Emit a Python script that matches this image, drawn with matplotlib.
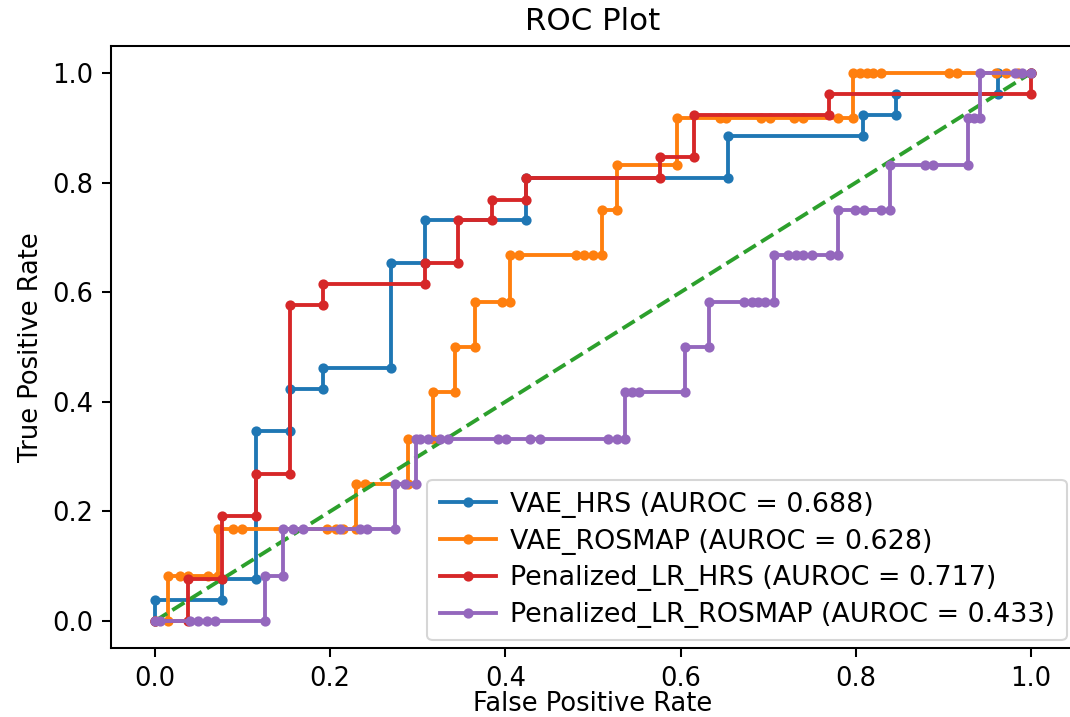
import matplotlib
matplotlib.use("Agg")
import matplotlib.pyplot as plt

# ROC curve points (false positive rate, true positive rate)
vae_hrs_fpr = [0, 0, 0.077, 0.077, 0.115, 0.115, 0.154, 0.154, 0.192, 0.192,
               0.269, 0.269, 0.308, 0.308, 0.423, 0.423, 0.654, 0.654, 0.808,
               0.808, 0.846, 0.846, 0.962, 0.962, 1.0]
vae_hrs_tpr = [0, 0.038, 0.038, 0.077, 0.077, 0.346, 0.346, 0.423, 0.423, 0.462,
               0.462, 0.654, 0.654, 0.731, 0.731, 0.808, 0.808, 0.885, 0.885,
               0.923, 0.923, 0.962, 0.962, 1.0, 1.0]

vae_rosmap_fpr = [0, 0.015, 0.015, 0.029, 0.038, 0.061, 0.072, 0.072, 0.089, 0.099,
                  0.196, 0.207, 0.215, 0.229, 0.229, 0.240, 0.289, 0.289, 0.317,
                  0.317, 0.342, 0.342, 0.365, 0.365, 0.396, 0.405, 0.405, 0.415,
                  0.481, 0.490, 0.500, 0.510, 0.510, 0.527, 0.527, 0.596, 0.596,
                  0.645, 0.652, 0.692, 0.702, 0.729, 0.740, 0.780, 0.797, 0.797,
                  0.805, 0.813, 0.820, 0.829, 0.906, 0.915, 0.960, 0.972, 0.985, 1.0]
vae_rosmap_tpr = [0, 0, 0.083, 0.083, 0.083, 0.083, 0.083, 0.167, 0.167, 0.167,
                  0.167, 0.167, 0.167, 0.167, 0.25, 0.25, 0.25, 0.333, 0.333,
                  0.417, 0.417, 0.5, 0.5, 0.583, 0.583, 0.583, 0.667, 0.667,
                  0.667, 0.667, 0.667, 0.667, 0.75, 0.75, 0.833, 0.833, 0.917,
                  0.917, 0.917, 0.917, 0.917, 0.917, 0.917, 0.917, 0.917, 1.0,
                  1.0, 1.0, 1.0, 1.0, 1.0, 1.0, 1.0, 1.0, 1.0, 1.0]

lr_hrs_fpr = [0, 0.038, 0.038, 0.077, 0.077, 0.115, 0.115, 0.154, 0.154, 0.192,
              0.192, 0.308, 0.308, 0.346, 0.346, 0.385, 0.385, 0.423, 0.423,
              0.577, 0.577, 0.615, 0.615, 0.769, 0.769, 1.0, 1.0]
lr_hrs_tpr = [0, 0, 0.077, 0.077, 0.192, 0.192, 0.269, 0.269, 0.577, 0.577,
              0.615, 0.615, 0.654, 0.654, 0.731, 0.731, 0.769, 0.769, 0.808,
              0.808, 0.846, 0.846, 0.923, 0.923, 0.962, 0.962, 1.0]

lr_rosmap_fpr = [0, 0.006, 0.040, 0.049, 0.059, 0.068, 0.126, 0.126, 0.146, 0.146,
                 0.158, 0.169, 0.211, 0.234, 0.242, 0.274, 0.274, 0.285, 0.298,
                 0.298, 0.303, 0.312, 0.325, 0.335, 0.392, 0.401, 0.428, 0.440,
                 0.517, 0.527, 0.537, 0.537, 0.544, 0.553, 0.605, 0.605, 0.632,
                 0.632, 0.672, 0.681, 0.688, 0.696, 0.707, 0.707, 0.723, 0.732,
                 0.740, 0.750, 0.771, 0.780, 0.780, 0.799, 0.809, 0.829, 0.839,
                 0.839, 0.879, 0.888, 0.928, 0.928, 0.935, 0.942, 0.942, 0.982,
                 0.990, 1.0]
lr_rosmap_tpr = [0, 0, 0, 0, 0, 0, 0, 0.083, 0.083, 0.167,
                 0.167, 0.167, 0.167, 0.167, 0.167, 0.167, 0.25, 0.25, 0.25,
                 0.333, 0.333, 0.333, 0.333, 0.333, 0.333, 0.333, 0.333, 0.333,
                 0.333, 0.333, 0.333, 0.417, 0.417, 0.417, 0.417, 0.5, 0.5,
                 0.583, 0.583, 0.583, 0.583, 0.583, 0.583, 0.667, 0.667, 0.667,
                 0.667, 0.667, 0.667, 0.667, 0.75, 0.75, 0.75, 0.75, 0.75,
                 0.833, 0.833, 0.833, 0.833, 0.917, 0.917, 0.917, 1.0, 1.0,
                 1.0, 1.0]

labels = ["VAE_HRS", "VAE_ROSMAP", "Penalized_LR_HRS", "Penalized_LR_ROSMAP"]
aurocs = [0.688, 0.628, 0.717, 0.433]

S = 1.85  # overall scale for line widths and tick sizes
plt.rcParams.update({
    "font.family": "DejaVu Sans",
    "font.size": 18.5,
    "axes.linewidth": 0.8 * S,
    "xtick.major.width": 0.8 * S,
    "ytick.major.width": 0.8 * S,
    "xtick.major.size": 3.5 * S,
    "ytick.major.size": 3.5 * S,
    "xtick.major.pad": 3.5 * S,
    "ytick.major.pad": 3.5 * S,
})

fig = plt.figure(figsize=(10.7, 7.17), dpi=100)
ax = fig.add_axes([0.1039, 0.0957, 0.9006, 0.8407])

lw = 1.5 * S
ms = 11
mew = 1.0 * S

ax.plot(vae_hrs_fpr, vae_hrs_tpr, marker=".", color="tab:blue", lw=lw, ms=ms, mew=mew,
        label=f"{labels[0]} (AUROC = {aurocs[0]:.3f})")
ax.plot(vae_rosmap_fpr, vae_rosmap_tpr, marker=".", color="tab:orange", lw=lw, ms=ms, mew=mew,
        label=f"{labels[1]} (AUROC = {aurocs[1]:.3f})")
ax.plot([0, 1], [0, 1], linestyle="--", color="tab:green", lw=lw)
ax.plot(lr_hrs_fpr, lr_hrs_tpr, marker=".", color="tab:red", lw=lw, ms=ms, mew=mew,
        label=f"{labels[2]} (AUROC = {aurocs[2]:.3f})")
ax.plot(lr_rosmap_fpr, lr_rosmap_tpr, marker=".", color="tab:purple", lw=lw, ms=ms, mew=mew,
        label=f"{labels[3]} (AUROC = {aurocs[3]:.3f})")

ax.set_xlim(-0.05, 1.05)
ax.set_ylim(-0.05, 1.05)
ax.set_xticks([0.0, 0.2, 0.4, 0.6, 0.8, 1.0])
ax.set_yticks([0.0, 0.2, 0.4, 0.6, 0.8, 1.0])
ax.set_xlabel("False Positive Rate", labelpad=-1.0)
ax.set_ylabel("True Positive Rate", labelpad=5.5)
ax.set_title("ROC Plot", fontsize=22.2, pad=6 * S)

leg = ax.legend(loc="lower right", fontsize=19.4, labelspacing=0.4,
                handletextpad=0.5, handlelength=2.1, borderaxespad=0.3,
                borderpad=0.45)
leg.get_frame().set_linewidth(0.8 * S)

fig.savefig("out.png", dpi=100)
